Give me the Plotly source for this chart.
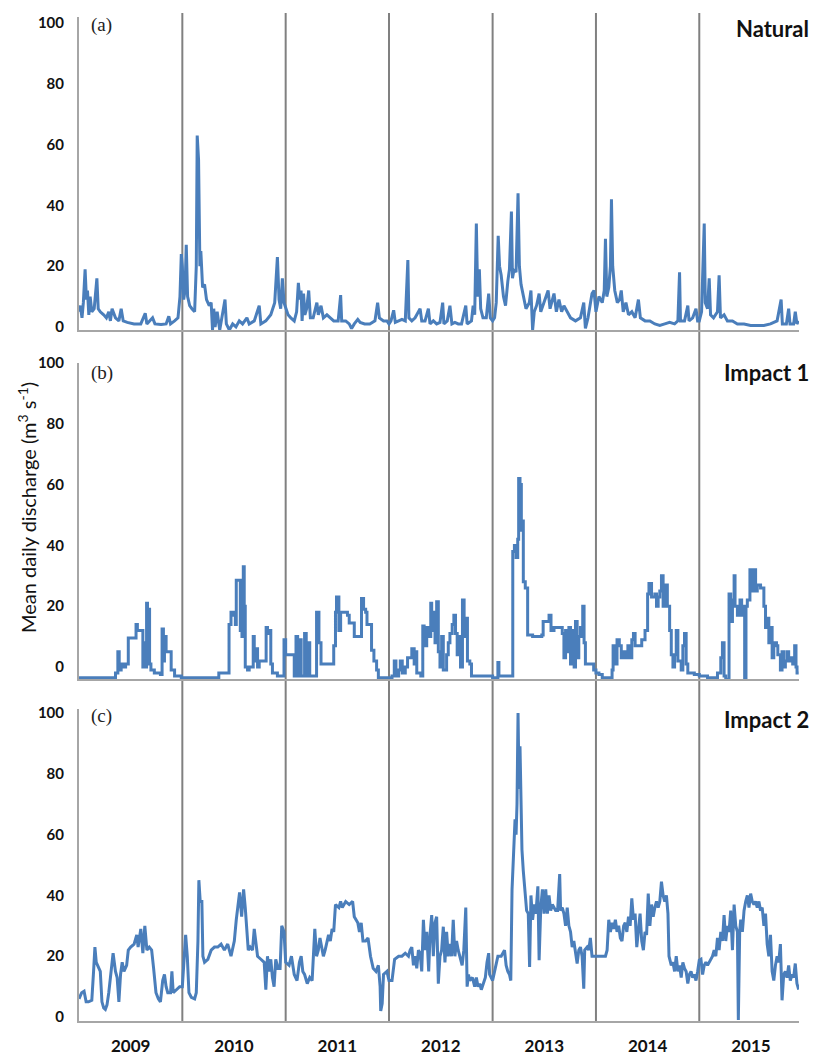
import pandas as pd
import plotly.graph_objects as go

# ---------------- data (decimal year, discharge m3/s) ----------------
years = [2009, 2010, 2011, 2012, 2013, 2014, 2015]
y_ticks = [0, 20, 40, 60, 80, 100]
panel_letters = ["(a)", "(b)", "(c)"]
panel_names = ["Natural", "Impact 1", "Impact 2"]

nat_t = [
    2009.000, 2009.013, 2009.029, 2009.042, 2009.059, 2009.072, 2009.082, 2009.095, 2009.108, 2009.124,
    2009.147, 2009.173, 2009.186, 2009.206, 2009.239, 2009.265, 2009.288, 2009.304, 2009.320, 2009.353,
    2009.386, 2009.408, 2009.428, 2009.467, 2009.533, 2009.598, 2009.641, 2009.657, 2009.712, 2009.735,
    2009.794, 2009.843, 2009.869, 2009.886, 2009.925, 2009.958, 2009.977, 2009.990,
    2010.000, 2010.013, 2010.026, 2010.038, 2010.051, 2010.071, 2010.093, 2010.119, 2010.135, 2010.144,
    2010.157, 2010.170, 2010.179, 2010.196, 2010.215, 2010.234, 2010.260, 2010.279, 2010.292, 2010.304,
    2010.317, 2010.337, 2010.362, 2010.388, 2010.413, 2010.426, 2010.455, 2010.487, 2010.519, 2010.551,
    2010.583, 2010.625, 2010.647, 2010.696, 2010.744, 2010.760, 2010.808, 2010.856, 2010.894, 2010.920,
    2010.936, 2010.952, 2010.968, 2010.984,
    2011.000, 2011.023, 2011.050, 2011.083, 2011.106, 2011.123, 2011.136, 2011.149, 2011.159, 2011.173,
    2011.186, 2011.203, 2011.223, 2011.239, 2011.266, 2011.302, 2011.316, 2011.342, 2011.365, 2011.399,
    2011.432, 2011.465, 2011.508, 2011.532, 2011.542, 2011.581, 2011.615, 2011.638, 2011.664, 2011.698,
    2011.721, 2011.764, 2011.814, 2011.864, 2011.890, 2011.907, 2011.947, 2011.980,
    2012.000, 2012.019, 2012.045, 2012.061, 2012.093, 2012.125, 2012.157, 2012.182, 2012.192, 2012.220,
    2012.252, 2012.300, 2012.316, 2012.348, 2012.380, 2012.396, 2012.428, 2012.460, 2012.492, 2012.518,
    2012.530, 2012.562, 2012.588, 2012.607, 2012.636, 2012.668, 2012.700, 2012.741, 2012.754, 2012.796,
    2012.812, 2012.827, 2012.843, 2012.856, 2012.872, 2012.885, 2012.907, 2012.939, 2012.962, 2012.978,
    2013.000, 2013.019, 2013.035, 2013.054, 2013.067, 2013.083, 2013.105, 2013.125, 2013.147, 2013.163,
    2013.182, 2013.192, 2013.208, 2013.227, 2013.246, 2013.259, 2013.275, 2013.297, 2013.323, 2013.355,
    2013.371, 2013.387, 2013.403, 2013.425, 2013.450, 2013.466, 2013.498, 2013.537, 2013.556, 2013.578,
    2013.594, 2013.617, 2013.642, 2013.668, 2013.690, 2013.722, 2013.754, 2013.802, 2013.850, 2013.882,
    2013.898, 2013.923, 2013.962, 2013.981,
    2014.000, 2014.029, 2014.061, 2014.080, 2014.092, 2014.105, 2014.124, 2014.140, 2014.150, 2014.162,
    2014.182, 2014.207, 2014.229, 2014.245, 2014.264, 2014.290, 2014.315, 2014.347, 2014.379, 2014.411,
    2014.430, 2014.475, 2014.522, 2014.570, 2014.618, 2014.666, 2014.713, 2014.761, 2014.793, 2014.809,
    2014.818, 2014.857, 2014.889, 2014.901, 2014.936, 2014.968, 2014.984,
    2015.000, 2015.022, 2015.048, 2015.058, 2015.080, 2015.096, 2015.109, 2015.138, 2015.176, 2015.192,
    2015.205, 2015.240, 2015.272, 2015.321, 2015.369, 2015.433, 2015.497, 2015.561, 2015.625, 2015.689,
    2015.753, 2015.792, 2015.804, 2015.843, 2015.865, 2015.878, 2015.913, 2015.929, 2015.945, 2015.962,
]
nat_q = [
    5, 7, 3, 8, 19, 9, 12, 4, 10, 5,
    6, 16, 6, 5, 4, 3, 5, 2, 6, 3,
    2, 6, 2, 1.5, 1, 1, 4.5, 1, 3, 1,
    0.8, 1, 3.5, 1, 2, 3, 10, 24,
    20, 9, 12, 27, 10, 7, 6, 5, 20, 63,
    55, 20, 25, 13, 14, 9, 7, 8, -1, 6,
    0, 5, -1, 4, 9, 1, -1, 1, 0, 2,
    1, 3, 1, 2, 7, 1, 2, 4, 8, 23,
    9, 6, 16, 8,
    6, 4, 3, 2, 5, 14.5, 9, 12, 2, 11,
    4, 6, 12, 3, 3, 8, 4, 7, 3, 4,
    3, 2, 2, 10.5, 2, 2, 1, -0.5, 1, 2.5,
    1.5, 1, 1, 2, 8, 3, 2, 2,
    1, 2, 5.5, 1.5, 2, 2.5, 2, 22, 3, 2,
    3, 6, 2, 2, 6, 1, 2, 1, 1.5, 8,
    1, 2, 7, 1, 1.5, 1, 1, 7, 1, 2,
    7, 4, 34, 10, 19, 6, 3, 3, 11, 3,
    2, 3, 8, 30, 20, 17, 10, 7, 15, 19,
    38, 16, 19, 18, 44, 20, 14, 10, 6, 8,
    12, -1, 5, 7, 11, 5, 8, 12, 6, 9,
    11, 5, 9, 5, 7, 5, 3, 2, 3, 8,
    -0.5, 3, 11, 12,
    5, 10, 8, 12, 29, 10, 13, 20, 42, 20,
    12, 8, 9, 12, 5, 8, 4, 5, 3, 9,
    3, 2, 2, 1, 0.5, 1, 1.5, 1, 2, 18,
    2, 2, 7, 2, 3, 6, 2,
    2, 5, 34, 8, 6, 16, 4, 3, 5, 17,
    3, 4, 2, 2, 1, 1, 0.5, 0.5, 0.5, 1,
    2, 9, 1, 1, 6, 1, 1, 5, 1, 2,
]

imp1_t = [
    2009.000, 2009.337, 2009.353, 2009.376, 2009.389, 2009.408, 2009.428, 2009.451, 2009.467, 2009.477,
    2009.533, 2009.552, 2009.565, 2009.605, 2009.618, 2009.631, 2009.644, 2009.654, 2009.663, 2009.673,
    2009.683, 2009.696, 2009.729, 2009.788, 2009.804, 2009.817, 2009.827, 2009.843, 2009.876, 2009.892,
    2009.925, 2009.990,
    2010.000, 2010.343, 2010.353, 2010.439, 2010.452, 2010.471, 2010.494, 2010.513, 2010.522, 2010.551,
    2010.561, 2010.577, 2010.590, 2010.599, 2010.609, 2010.631, 2010.647, 2010.686, 2010.696, 2010.712,
    2010.728, 2010.744, 2010.792, 2010.811, 2010.824, 2010.843, 2010.856, 2010.872, 2010.920, 2010.974,
    2010.984,
    2011.000, 2011.066, 2011.083, 2011.100, 2011.116, 2011.133, 2011.150, 2011.183, 2011.199, 2011.216,
    2011.233, 2011.282, 2011.299, 2011.322, 2011.342, 2011.449, 2011.465, 2011.482, 2011.492, 2011.515,
    2011.532, 2011.598, 2011.615, 2011.648, 2011.664, 2011.714, 2011.734, 2011.754, 2011.774, 2011.787,
    2011.814, 2011.831, 2011.854, 2011.880, 2011.897,
    2012.000, 2012.029, 2012.051, 2012.067, 2012.093, 2012.109, 2012.128, 2012.157, 2012.179, 2012.204,
    2012.220, 2012.243, 2012.256, 2012.268, 2012.307, 2012.326, 2012.339, 2012.364, 2012.383, 2012.403,
    2012.412, 2012.428, 2012.444, 2012.460, 2012.476, 2012.492, 2012.508, 2012.524, 2012.540, 2012.556,
    2012.572, 2012.588, 2012.610, 2012.626, 2012.642, 2012.658, 2012.674, 2012.690, 2012.709, 2012.725,
    2012.741, 2012.757, 2012.780, 2012.796,
    2013.000, 2013.042, 2013.051, 2013.061, 2013.185, 2013.195, 2013.211, 2013.227, 2013.243, 2013.252,
    2013.265, 2013.278, 2013.284, 2013.297, 2013.316, 2013.339, 2013.387, 2013.476, 2013.489, 2013.530,
    2013.546, 2013.565, 2013.594, 2013.642, 2013.674, 2013.690, 2013.706, 2013.722, 2013.738, 2013.754,
    2013.770, 2013.789, 2013.802, 2013.818, 2013.834, 2013.850, 2013.859, 2013.872, 2013.885, 2013.898,
    2013.946, 2013.978,
    2014.000, 2014.029, 2014.061, 2014.140, 2014.156, 2014.166, 2014.182, 2014.204, 2014.226, 2014.245,
    2014.268, 2014.283, 2014.309, 2014.322, 2014.347, 2014.363, 2014.379, 2014.411, 2014.443, 2014.475,
    2014.500, 2014.513, 2014.538, 2014.570, 2014.586, 2014.602, 2014.618, 2014.634, 2014.650, 2014.672,
    2014.691, 2014.713, 2014.729, 2014.745, 2014.761, 2014.777, 2014.793, 2014.825, 2014.841, 2014.857,
    2014.873, 2014.889, 2014.952,
    2015.000, 2015.048, 2015.080, 2015.160, 2015.176, 2015.208, 2015.224, 2015.240, 2015.256, 2015.272,
    2015.288, 2015.304, 2015.321, 2015.337, 2015.346, 2015.369, 2015.394, 2015.410, 2015.426, 2015.439,
    2015.452, 2015.465, 2015.490, 2015.506, 2015.522, 2015.545, 2015.561, 2015.593, 2015.609, 2015.625,
    2015.641, 2015.657, 2015.673, 2015.689, 2015.705, 2015.721, 2015.747, 2015.760, 2015.785, 2015.801,
    2015.817, 2015.833, 2015.849, 2015.865, 2015.881, 2015.904, 2015.923, 2015.936, 2015.946, 2015.962,
]
imp1_q = [
    -3.5, -3.5, -2, 5, -1, 1, 0, 1, 1, 9.5,
    9.5, 14, 12, 12, 0, 8, 0, 21, 2, 19,
    1, -1, -2, -2.5, 12.5, 2, 10, 5, 5, -1,
    -3, -3.5,
    -3.5, -3.5, -2, -2, 14, 18, 17, 14, 28.5, 28.5,
    12, 10, 33, 20, 0, -1, 0, 10, 2, 6,
    0, 2, 2, 13, 11, 12, 1, -2, -3, -3,
    9,
    4, 4, -3, 10, -3, 9, -3, 11, -3, 8,
    -3, -3, 18, 8, 1, 1, 7, 18, 23, 12,
    18, 17, 14.5, 14.5, 10, 10, 22.5, 19, 18, 14,
    14, 5.5, 2, -1, -3.5,
    -3.5, -3, 2, -3, -1, 2, -2, 0, 3, 3,
    6, 1, 5, -2, -3, 13.5, 7, 13, 10, 21,
    12, 18, 8, 21.5, 5, 0, 10, -1, -1, 4,
    8, 11, 14, 17, 11, 4, 10, 0, 22, 10,
    16, 2, 1, -3,
    -3.5, -3.5, 1.5, -3, -3, 38, 40, 36, 42, 62,
    60, 45, 48, 28, 26, 10.5, 10, 10.5, 15, 15,
    17, 12, 13, 13, 11, 3, 12, 5, 13, 1,
    12, 0, 15, 3, 10, 13, 10, 20, 8, 1,
    1, -1,
    -2, -2.5, -3.5, -3.5, -1, 7, 1, 9, 7, 3,
    5, 3, 7, 3, 9, 11, 7, 7, 9, 12,
    24, 27.5, 23, 24, 20, 23, 25, 30, 20, 27,
    20, 12, 4, 0, 4, 12, 2, -1, 7, 11,
    1, -2, -2.5,
    -3, -3, -3.5, -3.5, -2, 3, 8, -3, -4, -4,
    24, 15, 22, 30, 20, 17, 22, 17, 20, -4,
    20, 22, 32, 25, 32, 25, 27, 26, 26, 20,
    13, 16, 8, 13, 3, 8, 7, 4, -1, 5,
    0, 2, 5, 2, 3, 1, 7, 0, -2, -2,
]

imp2_t = [
    2009.000, 2009.026, 2009.049, 2009.069, 2009.092, 2009.124, 2009.141, 2009.154, 2009.167, 2009.190,
    2009.206, 2009.222, 2009.239, 2009.255, 2009.271, 2009.288, 2009.310, 2009.330, 2009.353, 2009.369,
    2009.386, 2009.402, 2009.418, 2009.435, 2009.461, 2009.477, 2009.500, 2009.533, 2009.559, 2009.572,
    2009.598, 2009.618, 2009.637, 2009.657, 2009.680, 2009.703, 2009.722, 2009.745, 2009.768, 2009.788,
    2009.810, 2009.827, 2009.843, 2009.859, 2009.886, 2009.899, 2009.912, 2009.941, 2009.974,
    2010.000, 2010.016, 2010.032, 2010.048, 2010.064, 2010.087, 2010.119, 2010.135, 2010.151, 2010.160,
    2010.173, 2010.189, 2010.199, 2010.215, 2010.247, 2010.279, 2010.311, 2010.343, 2010.375, 2010.407,
    2010.439, 2010.471, 2010.503, 2010.522, 2010.542, 2010.554, 2010.574, 2010.593, 2010.609, 2010.625,
    2010.638, 2010.657, 2010.679, 2010.696, 2010.712, 2010.728, 2010.760, 2010.792, 2010.808, 2010.824,
    2010.840, 2010.856, 2010.872, 2010.888, 2010.904, 2010.926, 2010.946, 2010.962, 2010.984,
    2011.000, 2011.033, 2011.056, 2011.083, 2011.110, 2011.133, 2011.150, 2011.166, 2011.183, 2011.209,
    2011.233, 2011.256, 2011.282, 2011.299, 2011.316, 2011.332, 2011.365, 2011.382, 2011.415, 2011.432,
    2011.449, 2011.465, 2011.482, 2011.515, 2011.532, 2011.548, 2011.581, 2011.615, 2011.648, 2011.664,
    2011.698, 2011.714, 2011.731, 2011.748, 2011.774, 2011.797, 2011.821, 2011.847, 2011.874, 2011.897,
    2011.914, 2011.920, 2011.934, 2011.947, 2011.980,
    2012.000, 2012.029, 2012.054, 2012.093, 2012.125, 2012.157, 2012.188, 2012.204, 2012.220, 2012.236,
    2012.252, 2012.268, 2012.284, 2012.300, 2012.316, 2012.332, 2012.348, 2012.364, 2012.383, 2012.396,
    2012.412, 2012.428, 2012.444, 2012.460, 2012.476, 2012.492, 2012.508, 2012.524, 2012.540, 2012.556,
    2012.572, 2012.588, 2012.604, 2012.620, 2012.636, 2012.652, 2012.668, 2012.684, 2012.706, 2012.722,
    2012.741, 2012.754, 2012.767, 2012.780, 2012.805, 2012.827, 2012.843, 2012.859, 2012.875, 2012.891,
    2012.907, 2012.930, 2012.946, 2012.962, 2012.971,
    2013.000, 2013.019, 2013.051, 2013.083, 2013.115, 2013.131, 2013.147, 2013.163, 2013.176, 2013.188,
    2013.204, 2013.217, 2013.227, 2013.236, 2013.246, 2013.256, 2013.265, 2013.275, 2013.284, 2013.297,
    2013.313, 2013.329, 2013.345, 2013.358, 2013.371, 2013.387, 2013.403, 2013.419, 2013.438, 2013.450,
    2013.466, 2013.482, 2013.498, 2013.514, 2013.530, 2013.546, 2013.562, 2013.578, 2013.594, 2013.610,
    2013.629, 2013.649, 2013.658, 2013.674, 2013.690, 2013.706, 2013.722, 2013.738, 2013.754, 2013.770,
    2013.786, 2013.802, 2013.818, 2013.834, 2013.850, 2013.866, 2013.882, 2013.891, 2013.914, 2013.930,
    2013.946, 2013.962,
    2014.000, 2014.092, 2014.108, 2014.124, 2014.140, 2014.156, 2014.172, 2014.188, 2014.204, 2014.220,
    2014.236, 2014.252, 2014.268, 2014.283, 2014.299, 2014.315, 2014.331, 2014.347, 2014.363, 2014.379,
    2014.395, 2014.411, 2014.427, 2014.443, 2014.459, 2014.475, 2014.490, 2014.506, 2014.522, 2014.538,
    2014.554, 2014.570, 2014.586, 2014.602, 2014.618, 2014.634, 2014.650, 2014.666, 2014.682, 2014.697,
    2014.707, 2014.729, 2014.745, 2014.761, 2014.777, 2014.793, 2014.809, 2014.825, 2014.841, 2014.857,
    2014.873, 2014.889, 2014.904, 2014.920, 2014.936, 2014.952, 2014.968, 2014.984,
    2015.000, 2015.016, 2015.032, 2015.048, 2015.064, 2015.080, 2015.096, 2015.112, 2015.128, 2015.144,
    2015.160, 2015.176, 2015.192, 2015.208, 2015.224, 2015.240, 2015.256, 2015.272, 2015.288, 2015.304,
    2015.321, 2015.337, 2015.353, 2015.369, 2015.378, 2015.391, 2015.401, 2015.417, 2015.433, 2015.449,
    2015.465, 2015.481, 2015.497, 2015.513, 2015.529, 2015.545, 2015.561, 2015.577, 2015.593, 2015.609,
    2015.625, 2015.641, 2015.657, 2015.673, 2015.689, 2015.705, 2015.721, 2015.737, 2015.753, 2015.769,
    2015.785, 2015.801, 2015.817, 2015.833, 2015.849, 2015.865, 2015.881, 2015.897, 2015.913, 2015.929,
    2015.945, 2015.962,
]
imp2_q = [
    6, 8, 8.5, 5, 5, 5.5, 15, 23, 18, 16,
    15, 5, 3, 2.5, 4, 8, 16, 21, 15, 13,
    5, 14, 18, 15, 17, 22, 23, 24, 27, 23,
    29, 21, 30, 22, 23, 22, 16, 8, 6, 5,
    12, 14, 10, 8, 8, 15, 8, 9, 10,
    10, 20, 27, 20, 8, 6.5, 6, 8, 25, 45,
    38, 38, 20, 18, 19, 22, 23, 23, 24, 22,
    24, 20, 25, 32, 38, 41, 33, 42, 36, 26,
    22, 23, 22, 29, 24, 20, 19, 18, 9, 20,
    15, 19, 13, 10, 19, 16, 16, 30, 28,
    18, 17, 20, 14, 12, 18, 20, 15, 14, 11,
    13, 12, 29, 20, 22, 26, 20, 22, 27, 25,
    29, 28, 37, 36, 38, 36, 38, 37, 38, 33,
    31, 28, 31, 25, 25, 26, 20, 16, 15, 17,
    10, 2, 4.4, 14, 15,
    12, 12, 19, 20, 20, 21, 20, 22, 23, 17,
    20, 16, 22, 21, 15, 32, 22, 28, 15, 27,
    33.5, 20, 31, 33, 11, 20, 22, 29.7, 18, 28,
    20, 24, 20, 32, 20, 25, 22, 20, 17, 22,
    36, 10, 14, 12, 13, 10, 13, 10, 11, 9,
    11, 13, 18, 21, 14,
    12, 15, 20, 20, 22, 17, 15, 14, 12, 42,
    55, 65, 60, 70, 100, 75, 89, 70, 55, 48,
    40, 35, 34, 16.5, 40, 32, 37, 34, 43, 18.7,
    36, 42, 34, 42, 34, 40, 35, 37, 36, 35,
    35, 47, 35, 36, 34, 30, 36, 30, 28, 23,
    25, 21, 17.6, 22, 23, 20, 9.3, 22, 23, 22,
    26, 20,
    20, 20, 22, 32, 28, 31, 29, 32, 28, 30,
    26, 25, 30, 31, 28, 33, 30, 39, 32, 34,
    23, 28, 34, 25, 22, 28, 27, 40.6, 30, 37,
    33, 36, 38, 36, 38, 44.5, 40, 38, 40, 34,
    20, 17, 18, 15, 20, 15, 17, 13, 18, 16,
    15, 11, 14, 15, 13, 14, 12, 15,
    18.7, 19, 14, 17, 18, 17, 18, 19, 20, 22,
    20, 26, 22, 28, 25, 33.5, 25, 30, 28, 35,
    22, 37, 30, 28, -1, 28, 32, 28, 35, 38,
    40, 36, 40.6, 38, 37, 38, 36, 38, 35, 36,
    30, 34, 24, 20, 27, 15, 12, 17, 20, 18,
    24, 5.5, 14, 15, 13, 17, 12, 14, 13, 17.6,
    11, 9,
]


def to_date(t):
    y = int(t)
    start = pd.Timestamp(year=y, month=1, day=1)
    ndays = (pd.Timestamp(year=y + 1, month=1, day=1) - start).days
    return start + pd.Timedelta(days=(t - y) * ndays)


W, H = 813, 1057
FONT = "Lato"
LINE = "#4a7ebb"
AXIS = "#a6a6a6"
YEARLINE = "#808080"


def dom(top_px, bot_px):
    return [(H - bot_px) / H, (H - top_px) / H]


panels = [
    dict(t=nat_t, q=nat_q, dom=dom(17, 330), rng=[-1.0, 102.0], shape="linear", lab_y=25, name_y=28),
    dict(t=imp1_t, q=imp1_q, dom=dom(363, 679), rng=[-3.95, 100.0], shape="hv", lab_y=373, name_y=373),
    dict(t=imp2_t, q=imp2_q, dom=dom(709, 1021), rng=[-1.3, 101.3], shape="linear", lab_y=716, name_y=719),
]

x_range = [to_date(2009.0), to_date(2015.965)]

fig = go.Figure()
layout = dict(
    width=W, height=H,
    margin=dict(l=79, r=14, t=0, b=0, autoexpand=False),
    paper_bgcolor="white", plot_bgcolor="white",
    showlegend=False,
    font=dict(family=FONT, color="#111111"),
)

annotations = []
for i, p in enumerate(panels):
    n = "" if i == 0 else str(i + 1)
    fig.add_trace(go.Scatter(
        x=[to_date(v) for v in p["t"]], y=p["q"],
        mode="lines", line=dict(color=LINE, width=3, shape=p["shape"]),
        xaxis="x" + n, yaxis="y" + n, name=panel_names[i],
    ))
    xa = dict(
        domain=[0, 1], range=x_range, anchor="y" + n,
        showline=True, linecolor=AXIS, linewidth=2, mirror=False,
        showgrid=False, zeroline=False, ticks="",
        showticklabels=False, automargin=False,
    )
    if i == 2:
        xa.update(
            showticklabels=True,
            tickmode="array",
            tickvals=[to_date(y + 0.5) for y in years],
            ticktext=[str(y) for y in years],
            tickfont=dict(family=FONT, size=17, weight="bold", color="#111111"),
            ticklabelstandoff=9,
        )
    ya = dict(
        domain=p["dom"], range=p["rng"], anchor="x" + n,
        tickmode="array", tickvals=y_ticks,
        showline=True, linecolor=AXIS, linewidth=2,
        showgrid=False, zeroline=False, ticks="",
        tickfont=dict(family=FONT, size=15, weight="bold", color="#111111"),
        ticklabelstandoff=10, automargin=False,
    )
    layout["xaxis" + n] = xa
    layout["yaxis" + n] = ya

    annotations.append(dict(
        text=panel_letters[i], xref="paper", yref="paper",
        x=(89 - 79) / 720, y=(H - p["lab_y"]) / H,
        xanchor="left", yanchor="middle", showarrow=False,
        font=dict(family="Liberation Serif", size=19, color="#222222"),
    ))
    annotations.append(dict(
        text=panel_names[i], xref="paper", yref="paper",
        x=(811 - 79) / 720, y=(H - p["name_y"]) / H,
        xanchor="right", yanchor="middle", showarrow=False,
        font=dict(family=FONT, size=22, weight="bold", color="#111111"),
    ))

annotations.append(dict(
    text="Mean daily discharge (m<sup>3</sup> s<sup>-1</sup>)",
    xref="paper", yref="paper",
    x=(27 - 79) / 720, y=(H - 508) / H,
    xanchor="center", yanchor="middle", textangle=-90, showarrow=False,
    font=dict(family=FONT, size=20, color="#111111"),
))
layout["annotations"] = annotations

layout["shapes"] = [
    dict(type="line", xref="x", yref="paper",
         x0=to_date(float(y)), x1=to_date(float(y)),
         y0=(H - 1021) / H, y1=(H - 13) / H,
         line=dict(color=YEARLINE, width=2), layer="below")
    for y in years[1:]
]

fig.update_layout(**layout)
fig.write_html(
    "out.html",
    config={"displayModeBar": False},
    post_script="document.body.style.margin='0';document.body.style.overflow='hidden';",
)
